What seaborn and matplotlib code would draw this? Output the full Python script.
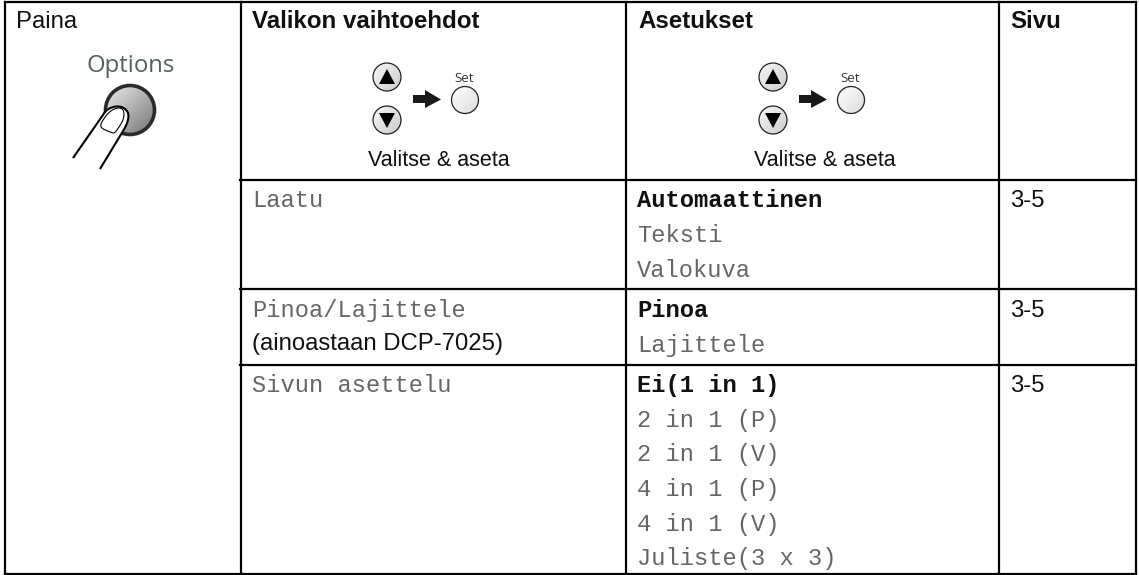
import numpy as np
import pandas as pd
import matplotlib.pyplot as plt
from matplotlib.patches import Circle, PathPatch, Polygon
from matplotlib.path import Path
import seaborn as sns

# Table content
headers = ["Paina", "Valikon vaihtoehdot", "Asetukset", "Sivu"]
menu_items = ["Laatu", "Pinoa/Lajittele", "Sivun asettelu"]
menu_note = "(ainoastaan DCP-7025)"
settings_bold = ["Automaattinen", "Pinoa", "Ei(1 in 1)"]
settings_plain = ["Teksti", "Valokuva", "Lajittele", "2 in 1 (P)", "2 in 1 (V)", "4 in 1 (P)", "4 in 1 (V)", "Juliste(3 x 3)"]
pages = ["3-5", "3-5", "3-5"]
button_caption = "Valitse & aseta"

# Rule positions in image pixels
col_edges = [5, 241, 626, 999, 1136]
row_edges = [2, 180, 289, 365, 574]

sns.set_theme(style="white")
plt.rcParams['font.family'] = ['Liberation Sans', 'DejaVu Sans']

fig = plt.figure(figsize=(11.39, 5.75), dpi=100)
ax = fig.add_axes([0, 0, 1, 1])

# Table rules, the first column has no inner rules
rules = []
for i, x in enumerate(col_edges):
    rules.append(pd.DataFrame({"x": [x, x], "y": [row_edges[0], row_edges[-1]], "rule": f"v{i}"}))
for i, y in enumerate(row_edges):
    if y in (row_edges[0], row_edges[-1]):
        xs = [col_edges[0], col_edges[-1]]
    else:
        xs = [col_edges[1] - 1, col_edges[-1]]
    rules.append(pd.DataFrame({"x": xs, "y": [y, y], "rule": f"h{i}"}))
rules = pd.concat(rules)
sns.lineplot(data=rules, x="x", y="y", units="rule", estimator=None, sort=False,
             color="black", lw=1.6, ax=ax, solid_capstyle="projecting", legend=False)

ax.set_xlim(0, 1139)
ax.set_ylim(575, 0)
ax.axis("off")

SANS = 17.2
HEAD = 17.4
CAPTION = 15.5
MONO = 17.15
GREY = "#666666"


def sans(x, y, s, size=SANS, **kw):
    ax.text(x, y, s, fontsize=size, color="#111111", va="baseline", **kw)


def mono(x, y, s, bold=False):
    ax.text(x, y, s, fontsize=MONO, family="Liberation Mono", va="baseline",
            color="#111111" if bold else GREY, fontweight="bold" if bold else "normal")


def shaded_disc(cx, cy, r, light, dark):
    # diagonal shading clipped to a circle, light side upper left
    g = np.linspace(0, 1, 64)
    xx, yy = np.meshgrid(g, g)
    im = ax.imshow(light + (dark - light) * (xx + yy) / 2, extent=[cx - r, cx + r, cy + r, cy - r],
                   origin="upper", cmap="gray", vmin=0, vmax=1, aspect="auto", zorder=2)
    im.set_clip_path(Circle((cx, cy), r, transform=ax.transData))


def nav_buttons(ux, sx):
    for cy, tip, base in [(77, -8, 7), (120, 8, -7)]:
        shaded_disc(ux, cy, 14, 0.97, 0.80)
        ax.add_patch(Circle((ux, cy), 14, fc="none", ec="#222222", lw=0.9, zorder=3))
        ax.add_patch(Polygon([(ux, cy + tip), (ux - 8, cy + base), (ux + 8, cy + base)],
                             fc="black", ec="none", zorder=3))
    shaded_disc(sx, 100, 13.5, 1.0, 0.86)
    ax.add_patch(Circle((sx, 100), 13.5, fc="none", ec="#222222", lw=0.9, zorder=3))
    # arrow to Set
    a = ux + 26
    ax.add_patch(Polygon([(a, 95), (a + 12, 95), (a + 12, 90), (a + 28, 99.5), (a + 12, 108),
                          (a + 12, 103), (a, 103)], fc="#1a1a1a", ec="none", zorder=3))
    ax.text(sx - 1, 78, "Set", fontsize=9.6, family="Open Sans", color="#333333", ha="center", va="center")
    ax.text(ux + 52, 166, button_caption, fontsize=CAPTION, color="#111111", ha="center", va="baseline")


# Header row
sans(16, 28, headers[0])
sans(252, 28, headers[1], size=HEAD, fontweight="bold")
sans(638, 28, headers[2], size=HEAD, fontweight="bold")
sans(1010, 28, headers[3], size=HEAD, fontweight="bold")

# Options button with finger
ax.text(131, 66, "Options", fontsize=17.2, family="Open Sans",
        color="#56605f", ha="center", va="center")
shaded_disc(130, 110, 25, 0.93, 0.45)
ax.add_patch(Circle((130, 110), 24.5, fc="none", ec="#2b2b2b", lw=2.6, zorder=3))
finger = Path([(73, 158), (103, 115), (108, 105), (124, 103), (128, 113),
               (130, 120), (125, 128), (120, 136), (100, 169)],
              [Path.MOVETO, Path.LINETO, Path.CURVE4, Path.CURVE4, Path.CURVE4,
               Path.CURVE4, Path.CURVE4, Path.CURVE4, Path.LINETO])
ax.add_patch(PathPatch(Path(finger.vertices, finger.codes), fc="white", ec="none", zorder=4))
ax.add_patch(PathPatch(finger, fc="none", ec="black", lw=1.5, zorder=5))
nail = Path([(101, 124), (105, 115), (112, 108), (119, 108), (125, 108), (125, 116), (122, 122),
             (119, 127), (116, 133), (113, 133), (108, 131), (99, 129), (101, 124)],
            [Path.MOVETO, Path.CURVE4, Path.CURVE4, Path.CURVE4, Path.CURVE4, Path.CURVE4, Path.CURVE4,
             Path.CURVE4, Path.CURVE4, Path.CURVE4, Path.CURVE4, Path.CURVE4, Path.CURVE4])
ax.add_patch(PathPatch(nail, fc="white", ec="black", lw=0.8, zorder=6))

nav_buttons(387, 465)
nav_buttons(773, 851)

# Body rows
mono(252, 207, menu_items[0])
mono(252, 317, menu_items[1])
sans(252, 350, menu_note)
mono(252, 392, menu_items[2])

mono(637, 207, settings_bold[0], bold=True)
mono(637, 242, settings_plain[0])
mono(637, 277, settings_plain[1])
mono(637, 317, settings_bold[1], bold=True)
mono(637, 352, settings_plain[2])
mono(637, 392, settings_bold[2], bold=True)
for y, s in zip([427, 461, 496, 531, 565], settings_plain[3:]):
    mono(637, y, s)

for y, s in zip([207, 317, 392], pages):
    sans(1010, y, s)

fig.savefig("out.png", dpi=100)
plt.close(fig)
